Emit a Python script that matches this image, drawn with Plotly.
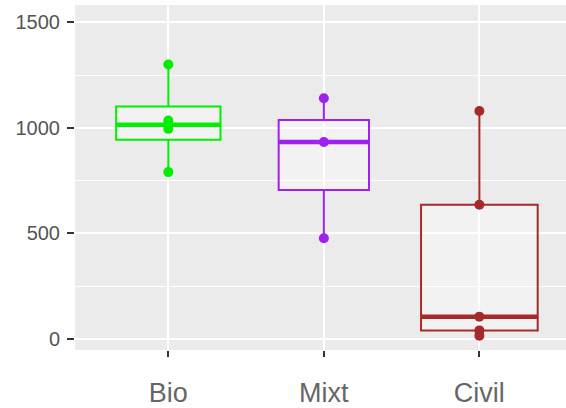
import numpy as np
import plotly.graph_objects as go

categories = ["Bio", "Mixt", "Civil"]
bio_values = [1300, 1035, 995, 790]
mixt_values = [1140, 933, 477]
civil_values = [1080, 635, 105, 40, 15]
colors = ["#00EE00", "#A020F0", "#A52A2A"]
y_ticks = [0, 500, 1000, 1500]
y_minor = [250, 750, 1250]

series = [bio_values, mixt_values, civil_values]
positions = list(range(1, len(categories) + 1))
max_n = max(len(s) for s in series)
base_width = 0.75

fig = go.Figure()
for pos, vals, col in zip(positions, series, colors):
    arr = np.array(vals, dtype=float)
    q1, med, q3 = np.percentile(arr, [25, 50, 75])
    iqr = q3 - q1
    lf = arr[arr >= q1 - 1.5 * iqr].min()
    uf = arr[arr <= q3 + 1.5 * iqr].max()
    w = base_width * np.sqrt(len(arr)) / np.sqrt(max_n)
    fig.add_trace(go.Box(
        x=[pos], q1=[q1], median=[med], q3=[q3],
        lowerfence=[lf], upperfence=[uf],
        width=w, whiskerwidth=0,
        line=dict(color=col, width=2),
        fillcolor="rgba(255,255,255,0.35)",
        boxpoints=False, showlegend=False, hoverinfo="skip",
    ))
    fig.add_trace(go.Scatter(
        x=[pos - w / 2, pos + w / 2], y=[med, med], mode="lines",
        line=dict(color=col, width=4.5), showlegend=False, hoverinfo="skip",
    ))
    fig.add_trace(go.Scatter(
        x=[pos] * len(arr), y=arr, mode="markers",
        marker=dict(color=col, size=10), showlegend=False,
    ))

fig.update_layout(
    width=566, height=408,
    margin=dict(l=75, r=0, t=5, b=58, autoexpand=False),
    paper_bgcolor="white", plot_bgcolor="#EBEBEB",
    font=dict(family="Liberation Sans, Arial, sans-serif"),
    boxmode="overlay",
)
fig.update_xaxes(
    range=[0.4, 3.557], tickvals=positions, ticktext=categories,
    showgrid=True, gridcolor="white", gridwidth=2, zeroline=False,
    ticks="outside", ticklen=6, tickwidth=1.5, tickcolor="#333333",
    tickfont=dict(size=27, color="#666666"), ticklabelstandoff=13,
    showline=False, automargin=False,
)
fig.update_yaxes(
    range=[-53, 1582], tickvals=y_ticks,
    showgrid=True, gridcolor="white", gridwidth=2, zeroline=False,
    ticks="outside", ticklen=7, tickwidth=1.5, tickcolor="#333333",
    tickfont=dict(size=20, color="#555555"), ticklabelstandoff=3,
    minor=dict(tickvals=y_minor, showgrid=True, gridcolor="white", gridwidth=1, ticks=""),
    showline=False, automargin=False,
)

fig.write_html(
    "out.html",
    config={"displayModeBar": False},
    post_script="document.body.style.margin='0';document.body.style.overflow='hidden';",
)
